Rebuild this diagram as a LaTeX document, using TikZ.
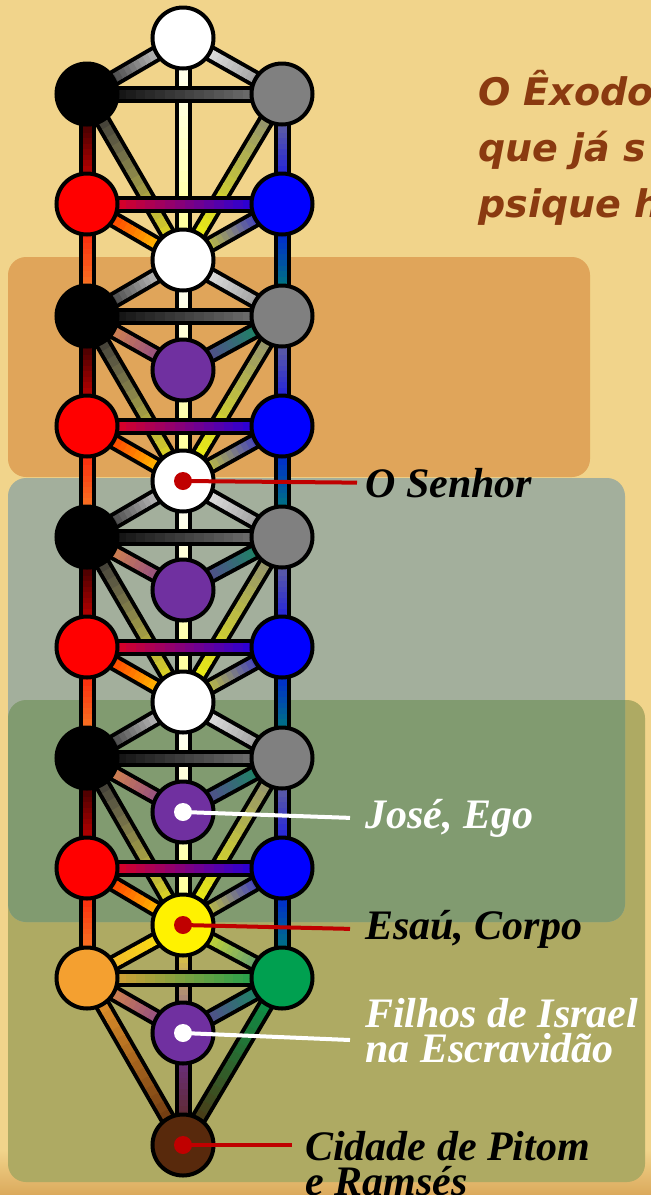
\documentclass[tikz,border=0pt]{standalone}
\usepackage{fontspec}
\setmainfont{Liberation Serif}
\newfontfamily\titulofont{DejaVu Sans}
\usetikzlibrary{calc, positioning}
\definecolor{cinza}{HTML}{808080}
\definecolor{roxo}{HTML}{7030A0}
\definecolor{laranja}{HTML}{F4A030}
\definecolor{verde}{HTML}{00A050}
\definecolor{marrom}{HTML}{58290C}
\definecolor{palha}{HTML}{FFFF8C}
\definecolor{fiovermelho}{HTML}{C00000}
\definecolor{tituloterra}{HTML}{8A3A10}
\definecolor{areia}{HTML}{F1D48B}
\definecolor{areiaescura}{HTML}{DBA95C}
\definecolor{caixalaranja}{HTML}{E0A55A}
\definecolor{caixacinza}{HTML}{A3AF9C}
\definecolor{caixaverde}{HTML}{819B70}
\definecolor{caixaoliva}{HTML}{AEAA63}

\pgfdeclarelayer{fundo}
\pgfdeclarelayer{trilhos}
\pgfsetlayers{fundo,trilhos,main}

% caminho com degradê: de, para, cor inicial, cor final
\newcommand{\caminho}[4]{%
  \draw[trilho] (#1.center) -- (#2.center);
  \foreach \i in {0,...,19} {
    \pgfmathtruncatemacro{\pct}{98-5*\i}
    \draw[miolo, #3!\pct!#4] ($(#1.center)!\i/20!(#2.center)$) -- ($(#1.center)!\i/20+0.055!(#2.center)$);
  }%
}

\begin{document}
\begin{tikzpicture}[
    x=1pt, y=-1pt,
    sefira/.style={circle, draw=black, line width=4pt, minimum size=61pt, inner sep=0pt},
    trilho/.style={line width=17pt, black},
    miolo/.style={line width=9pt, line cap=butt},
    caixa/.style={rounded corners=18pt},
    ponto/.style={circle, minimum size=18pt, inner sep=0pt},
    fio/.style={line width=4pt},
    rotulo/.style={font=\fontsize{42}{35}\selectfont\bfseries\itshape, inner sep=0pt, align=left},
]
\useasboundingbox (0,0) rectangle (651,1195);
\clip (0,0) rectangle (651,1195);

% Fundo e faixas
\begin{pgfonlayer}{fundo}
  \fill[areia] (0,0) rectangle (651,1195);
  \shade[top color=areia, bottom color=areiaescura] (0,1150) rectangle (651,1195);
  \fill[caixa, caixalaranja] (8,257) rectangle (590,477);
  \fill[caixa, caixaoliva] (8,700) rectangle (645,1182);
  \fill[caixa, caixacinza] (8,478) rectangle (625,922);
  \begin{scope}
    \clip[caixa] (8,700) rectangle (645,1182);
    \fill[caixa, caixaverde] (8,478) rectangle (625,922);
  \end{scope}
\end{pgfonlayer}

% Quatro árvores sobrepostas
\foreach \n/\y in {1/38, 2/260, 3/481, 4/702} {
  \node[sefira, fill=white] (w\n) at (183,\y) {};
  \node[sefira, fill=black] (bk\n) at (87,\y+56) {};
  \node[sefira, fill=cinza] (gy\n) at (282,\y+56) {};
  \node[sefira, fill=red] (rd\n) at (87,\y+166) {};
  \node[sefira, fill=blue] (bl\n) at (282,\y+166) {};
}
\foreach \n/\y in {2/370, 3/590, 4/812} {
  \node[sefira, fill=roxo] (pu\n) at (183,\y) {};
}

% Base da última árvore
\node[sefira, fill=yellow] (ye) at (183,925) {};
\node[sefira, fill=laranja] (lj) at (87,978) {};
\node[sefira, fill=verde] (vd) at (282,978) {};
\node[sefira, fill=roxo] (pu5) at (183,1033) {};
\node[sefira, fill=marrom] (mr) at (183,1145) {};

\begin{pgfonlayer}{trilhos}
  % pilar do meio e diagonais
  \foreach \n/\t in {1/w2, 2/w3, 3/w4, 4/ye} {
    \caminho{w\n}{\t}{white}{palha}
    \caminho{w\n}{bk\n}{white}{black}
    \caminho{w\n}{gy\n}{white}{cinza}
    \caminho{bk\n}{\t}{black}{yellow}
    \caminho{gy\n}{\t}{cinza}{yellow}
    \caminho{rd\n}{\t}{red}{yellow}
    \caminho{bl\n}{\t}{blue}{yellow}
    \caminho{bk\n}{rd\n}{black}{red}
    \caminho{gy\n}{bl\n}{cinza}{blue}
  }
  \foreach \n in {2,3,4} {
    \caminho{bk\n}{pu\n}{laranja}{roxo}
    \caminho{gy\n}{pu\n}{verde}{roxo}
  }
  % colunas entre as árvores
  \foreach \n/\a/\b in {1/bk2/gy2, 2/bk3/gy3, 3/bk4/gy4, 4/lj/vd} {
    \caminho{rd\n}{\a}{red}{laranja}
    \caminho{bl\n}{\b}{blue}{verde}
  }
  % parte de baixo
  \caminho{ye}{lj}{yellow}{laranja}
  \caminho{ye}{vd}{yellow}{verde}
  \caminho{ye}{pu5}{yellow}{roxo}
  \caminho{lj}{pu5}{laranja}{roxo}
  \caminho{vd}{pu5}{verde}{roxo}
  \caminho{pu5}{mr}{roxo}{marrom}
  \caminho{lj}{mr}{laranja}{marrom}
  \caminho{vd}{mr}{verde}{marrom}
  % horizontais por cima
  \foreach \n in {1,...,4} {
    \caminho{bk\n}{gy\n}{black}{cinza}
    \caminho{rd\n}{bl\n}{red}{blue}
  }
  \caminho{lj}{vd}{laranja}{verde}
\end{pgfonlayer}

% Título
\node[font=\titulofont\fontsize{38}{56}\selectfont\bfseries\itshape, text=tituloterra, align=left, inner sep=0pt, anchor=base west] (titulo) at (478,217) {O Êxodo\\que já s\\psique h};

% Rótulos
\node[ponto, fill=fiovermelho] (p1) at (w3) {};
\node[rotulo, inner xsep=8pt, anchor=base west] (senhor) at (357,497) {O Senhor};
\draw[fio, fiovermelho] (p1.center) -- (senhor.west);

\node[ponto, fill=white] (p2) at (pu4) {};
\node[rotulo, text=white, inner xsep=15pt, anchor=base west] (jose) at (350,828) {José, Ego};
\draw[fio, white] (p2.center) -- (jose.west);

\node[ponto, fill=fiovermelho] (p3) at (ye) {};
\node[rotulo, inner xsep=15pt, anchor=base west] (esau) at (350,939) {Esaú, Corpo};
\draw[fio, fiovermelho] (p3.center) -- (esau.west);

\node[ponto, fill=white] (p4) at (pu5) {};
\node[rotulo, text=white, inner xsep=15pt, anchor=base west] (filhos) at (350,1062) {Filhos de Israel\\na Escravidão};
\draw[fio, white] (p4.center) -- ($(filhos.west |- p4)+(0,7)$);

\node[ponto, fill=fiovermelho] (p5) at (mr) {};
\node[rotulo, inner xsep=13pt, anchor=base west] (cidade) at (292,1195) {Cidade de Pitom\\e Ramsés};
\draw[fio, fiovermelho] (p5.center) -- (p5 -| cidade.west);

\end{tikzpicture}
\end{document}
